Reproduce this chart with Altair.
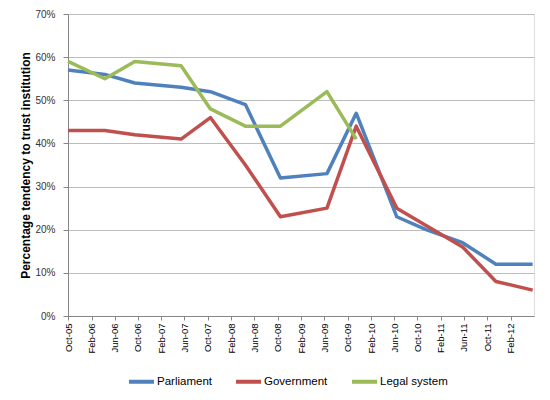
import altair as alt
import pandas as pd

# Survey dates (x) and percentage values
dates = ["2005-10-01", "2006-04-12", "2006-09-15", "2007-05-15", "2007-10-15",
         "2008-04-15", "2008-10-15", "2009-06-15", "2009-11-15", "2010-06-15",
         "2010-11-15", "2011-05-25", "2011-11-15", "2012-05-25"]
parliament = [57, 56, 54, 53, 52, 49, 32, 33, 47, 23, 20, 17, 12, 12]
government = [43, 43, 42, 41, 46, 35, 23, 25, 44, 25, 21, 16, 8, 6]
legal_system = [59, 55, 59, 58, 48, 44, 44, 52, 41]

series_names = ["Parliament", "Government", "Legal system"]
series_colors = ["#4F81BD", "#C0504D", "#9BBB59"]

tick_dates = [(2005, 10), (2006, 2), (2006, 6), (2006, 10), (2007, 2), (2007, 6),
              (2007, 10), (2008, 2), (2008, 6), (2008, 10), (2009, 2), (2009, 6),
              (2009, 10), (2010, 2), (2010, 6), (2010, 10), (2011, 2), (2011, 6),
              (2011, 10), (2012, 2)]
y_ticks = [0, 10, 20, 30, 40, 50, 60, 70]

rows = []
for name, vals in zip(series_names, [parliament, government, legal_system]):
    for i, v in enumerate(vals):
        rows.append({"date": dates[i], "value": v, "series": name, "order": i})
df = pd.DataFrame(rows)

FONT = "Liberation Sans"

x_axis = alt.Axis(
    values=[alt.DateTime(year=y, month=m, date=1, utc=True) for y, m in tick_dates],
    format="%b-%y",
    labelAngle=270,
    labelFontSize=9.5,
    labelFont=FONT,
    labelColor="#000000",
    labelPadding=3,
    tickSize=4,
    tickColor="#868686",
    domainColor="#868686",
    grid=False,
    title=None,
    labelOverlap=False,
)

y_axis = alt.Axis(
    values=y_ticks,
    labelExpr="datum.value + '%'",
    labelFontSize=10,
    labelFont=FONT,
    labelColor="#333333",
    labelPadding=8,
    tickSize=5,
    tickColor="#868686",
    domainColor="#868686",
    gridColor="#BDBDBD",
    gridWidth=1,
    title="Percentage  tendency to trust institution",
    titleFont=FONT,
    titleFontSize=12,
    titleFontWeight="bold",
    titleColor="#000000",
    titleX=-43,
    titleY=151,
    titleAngle=270,
    titleAlign="center",
    titleBaseline="middle",
)

chart = alt.Chart(df).mark_line(strokeWidth=3.5, strokeJoin="round", strokeCap="butt").encode(
    x=alt.X("date:T", axis=x_axis,
            scale=alt.Scale(type="utc",
                            domain=[alt.DateTime(year=2005, month=10, date=1, utc=True),
                                    alt.DateTime(year=2012, month=6, date=1, utc=True)])),
    y=alt.Y("value:Q", axis=y_axis, scale=alt.Scale(domain=[0, 70], nice=False)),
    color=alt.Color("series:N",
                    scale=alt.Scale(domain=series_names, range=series_colors),
                    legend=alt.Legend(
                        title=None,
                        orient="none",
                        direction="horizontal",
                        columns=3,
                        legendX=59,
                        legendY=353,
                        symbolType="stroke",
                        symbolSize=625,
                        symbolStrokeWidth=4,
                        labelFont=FONT,
                        labelFontSize=11.5,
                        labelColor="#000000",
                        labelOffset=1,
                        columnPadding=16,
                        padding=0,
                    )),
    order="order:Q",
).properties(
    width=466,
    height=302,
    autosize=alt.AutoSizeParams(type="none"),
    padding={"left": 60, "top": 6, "right": 8, "bottom": 76},
).configure_view(stroke=None).configure(background="#FFFFFF")

chart.save("out.html", embed_options={"renderer": "svg", "actions": False})
